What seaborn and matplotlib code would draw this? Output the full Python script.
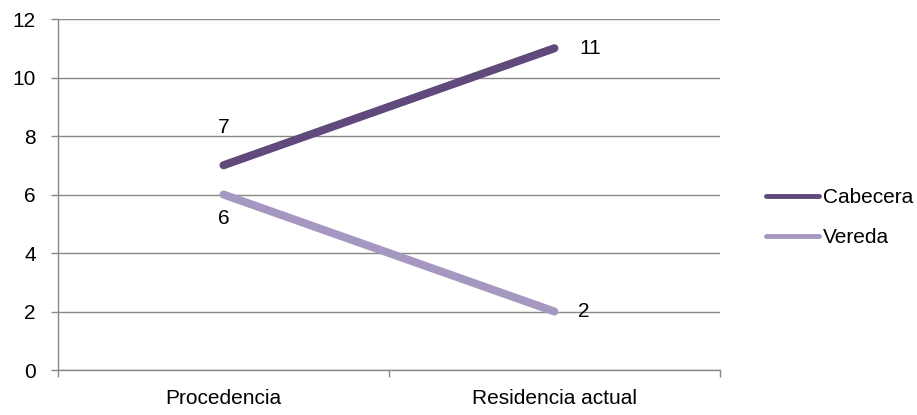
import numpy as np
import pandas as pd
import seaborn as sns
import matplotlib.pyplot as plt
from matplotlib.lines import Line2D

# Datos
categorias = ["Procedencia", "Residencia actual"]
cabecera = [7, 11]
vereda = [6, 2]
series = ["Cabecera", "Vereda"]
colores = {"Cabecera": "#604A7B", "Vereda": "#A597BF"}

df = pd.DataFrame({
    "pos": [0, 1, 0, 1],
    "valor": cabecera + vereda,
    "serie": ["Cabecera"] * 2 + ["Vereda"] * 2,
})

sns.set_style("white")
plt.rcParams['font.family'] = ['Liberation Sans', 'DejaVu Sans']
plt.rcParams['text.color'] = 'black'
fs = 15

fig = plt.figure(figsize=(9.17, 4.15), dpi=100)
ax = fig.add_axes([0.0633, 0.1084, 0.7217, 0.8458])

sns.lineplot(data=df, x="pos", y="valor", hue="serie", palette=colores,
             linewidth=5.8, solid_capstyle="round", legend=False, ax=ax)

ax.set_xlim(-0.5, 1.5)
ax.set_ylim(0, 12)
ax.set_yticks(np.arange(0, 13, 2))
ax.yaxis.grid(True, color="#888888", linewidth=1)
ax.set_axisbelow(True)
for s in ["top", "right"]:
    ax.spines[s].set_visible(False)
for s in ["left", "bottom"]:
    ax.spines[s].set_color("#888888")
    ax.spines[s].set_linewidth(1)

ax.set_xticks([0, 1])
ax.set_xticklabels(categorias, fontsize=fs)
ax.set_xticks([-0.5, 0.5, 1.5], minor=True)
ax.tick_params(axis="x", which="major", bottom=True, length=0, pad=14, labelcolor="black")
ax.tick_params(axis="x", which="minor", bottom=True, length=5, width=1,
               color="#888888", direction="out")
ax.tick_params(axis="y", left=True, length=5, width=1, color="#888888",
               direction="out", labelsize=fs, pad=11, labelcolor="black")
ax.set_xlabel("")
ax.set_ylabel("")

# Etiquetas de datos
ax.annotate(str(cabecera[0]), (0, cabecera[0]), xytext=(0, 27), textcoords="offset points",
            ha="center", va="center", fontsize=fs, color="black")
ax.annotate(str(cabecera[1]), (1, cabecera[1]), xytext=(18, 0), textcoords="offset points",
            ha="left", va="center", fontsize=fs, color="black")
ax.annotate(str(vereda[0]), (0, vereda[0]), xytext=(0, -17), textcoords="offset points",
            ha="center", va="center", fontsize=fs, color="black")
ax.annotate(str(vereda[1]), (1, vereda[1]), xytext=(17, 0), textcoords="offset points",
            ha="left", va="center", fontsize=fs, color="black")

handles = [Line2D([0], [0], color=colores[s], linewidth=3.5) for s in series]
fig.legend(handles, series, loc="center left", bbox_to_anchor=(0.835, 0.475),
           frameon=False, fontsize=fs, handlelength=2.55, handletextpad=0.2,
           labelspacing=1.0, borderaxespad=0, borderpad=0, labelcolor="black")

fig.savefig("out.png", dpi=100)
